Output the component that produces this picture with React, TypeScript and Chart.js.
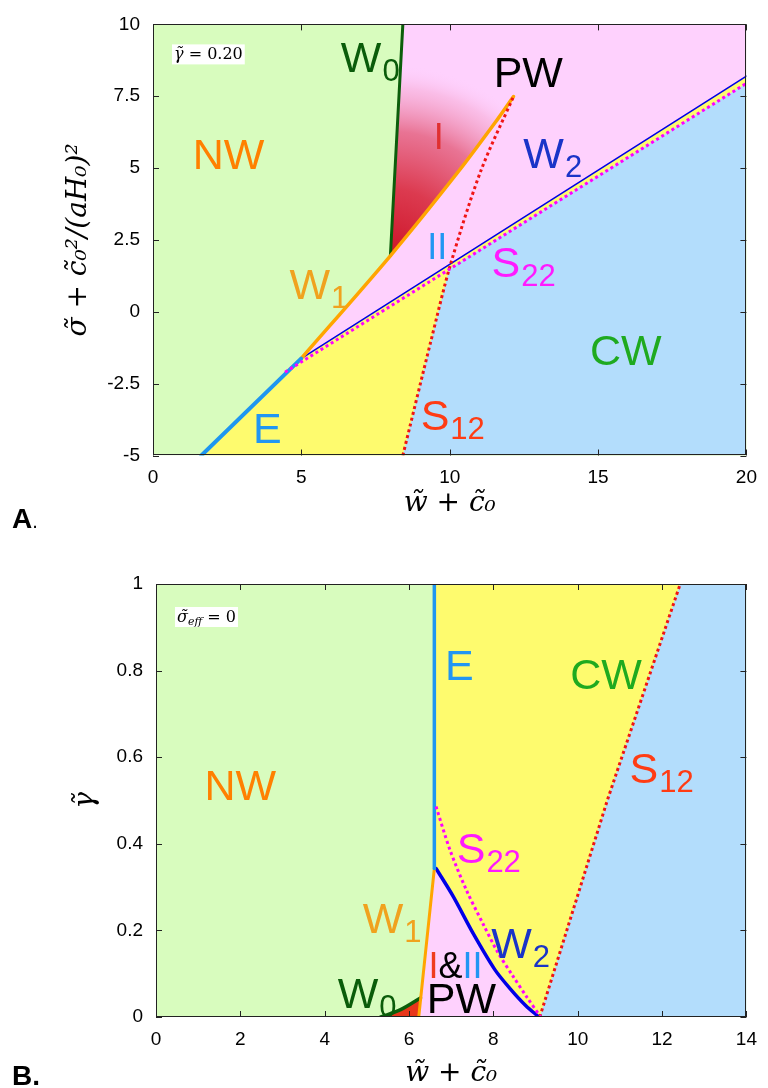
import React, { useEffect, useRef } from "react";
import { Chart, registerables } from "chart.js";
Chart.register(...registerables);

const SANS = '"Liberation Sans", Arial, Helvetica, sans-serif';
const SERIF = '"DejaVu Serif", serif';

// ---------------- Panel A (gamma = 0.20) ----------------
const xTicksA = [0, 5, 10, 15, 20];
const yTicksA = [-5, -2.5, 0, 2.5, 5, 7.5, 10];
const regionNW_A = [[0, -5], [0, 10], [20, 10], [20, -5]];
const regionE_A = [[1.63, -5], [4.99, -1.63], [20, 8.2], [20, -5]];
const regionCW_A = [[8.42, -5], [9.37, -1.0], [9.99, 1.5], [20, 7.95], [20, -5]];
const regionPW_A = [[8.0, 1.95], [8.42, 10], [20, 10], [20, 8.2], [4.99, -1.63]];
const regionI_A = [[8.0, 1.95], [8.42, 10], [12.15, 10], [12.15, 7.49], [11.64, 6.74], [10.3, 4.89]];
const lineE_A = [[1.63, -5], [4.99, -1.63]];
const lineW1_A = [[4.99, -1.63], [8.0, 1.95], [10.3, 4.89], [11.64, 6.74], [12.15, 7.49]];
const lineW0_A = [[8.0, 1.95], [8.42, 10]];
const lineW2_A = [[4.99, -1.63], [20, 8.2]];
const lineS22_A = [[4.45, -2.1], [20, 7.95]];
const lineS12_A = [[8.42, -5], [9.37, -1.0], [10.03, 1.66], [11.04, 4.88], [12.15, 7.49]];

// ---------------- Panel B (sigma_eff = 0) ----------------
const xTicksB = [0, 2, 4, 6, 8, 10, 12, 14];
const yTicksB = [0, 0.2, 0.4, 0.6, 0.8, 1];
const regionNW_B = [[0, 0], [0, 1], [14, 1], [14, 0]];
const regionY_B = [[6.6, 1], [12.43, 1], [10.7, 0.5], [9.1, 0], [8.77, 0.026], [8.4, 0.065], [8.03, 0.11], [7.52, 0.193], [7.05, 0.278], [6.64, 0.343], [6.6, 0.343]];
const regionPW_B = [[6.23, 0], [6.6, 0.343], [6.64, 0.343], [7.05, 0.278], [7.52, 0.193], [8.03, 0.11], [8.4, 0.065], [8.77, 0.026], [9.1, 0]];
const regionBlue_B = [[9.1, 0], [10.7, 0.5], [12.43, 1], [14, 1], [14, 0]];
const regionRed_B = [[5.33, 0], [5.8, 0.017], [6.27, 0.044], [6.23, 0]];
const lineE_B = [[6.6, 0.343], [6.6, 1]];
const lineW1_B = [[6.23, 0], [6.6, 0.343]];
const lineW2_B = [[6.64, 0.343], [7.05, 0.278], [7.52, 0.193], [8.03, 0.11], [8.4, 0.065], [8.77, 0.026], [9.08, 0]];
const lineS22_B = [[6.64, 0.486], [6.97, 0.386], [7.36, 0.293], [7.75, 0.216], [8.1, 0.15], [8.46, 0.095], [8.8, 0.045], [9.12, 0]];
const lineS12_B = [[9.1, 0], [10.7, 0.5], [12.43, 1]];
const lineW0_B = [[5.33, 0], [5.8, 0.017], [6.27, 0.044]];

// colours
const C_GREEN = "#d8fcbe";
const C_PINK = "#fed1fd";
const C_YELLOW = "#fefb6e";
const C_BLUE = "#b3ddfc";
const C_E = "#1e96f0";
const C_W1 = "#ffa500";
const C_W0 = "#0b5e0b";
const C_W2 = "#0000e6";
const C_S12 = "#f01414";
const C_S22 = "#ff00ff";

type Part = { t: string; c?: string; sub?: boolean };
type Label = { x: number; y: number; color: string; parts: Part[]; size?: number };

const labelsA: Label[] = [
  { x: 1.34, y: 4.96, color: "#ff8000", parts: [{ t: "NW" }] },
  { x: 6.33, y: 8.34, color: "#0a5c0a", parts: [{ t: "W" }, { t: "0", sub: true }] },
  { x: 11.48, y: 7.83, color: "#000", parts: [{ t: "PW" }] },
  { x: 9.46, y: 5.68, color: "#e03030", parts: [{ t: "I" }], size: 36 },
  { x: 12.48, y: 5.0, color: "#1a34c8", parts: [{ t: "W" }, { t: "2", sub: true }] },
  { x: 9.24, y: 1.83, color: "#2196f3", parts: [{ t: "II" }], size: 36 },
  { x: 11.41, y: 1.2, color: "#ff1aff", parts: [{ t: "S" }, { t: "22", sub: true }] },
  { x: 4.6, y: 0.45, color: "#f0a21e", parts: [{ t: "W" }, { t: "1", sub: true }] },
  { x: 14.73, y: -1.86, color: "#1faa1f", parts: [{ t: "CW" }] },
  { x: 3.37, y: -4.58, color: "#2196f3", parts: [{ t: "E" }] },
  { x: 9.02, y: -4.11, color: "#ff3c14", parts: [{ t: "S" }, { t: "12", sub: true }] },
];

const labelsB: Label[] = [
  { x: 1.15, y: 0.501, color: "#ff8000", parts: [{ t: "NW" }] },
  { x: 6.85, y: 0.778, color: "#2196f3", parts: [{ t: "E" }] },
  { x: 9.82, y: 0.757, color: "#1faa1f", parts: [{ t: "CW" }] },
  { x: 11.23, y: 0.54, color: "#ff3c14", parts: [{ t: "S" }, { t: "12", sub: true }] },
  { x: 7.13, y: 0.355, color: "#ff1aff", parts: [{ t: "S" }, { t: "22", sub: true }] },
  { x: 4.9, y: 0.195, color: "#f0a21e", parts: [{ t: "W" }, { t: "1", sub: true }] },
  { x: 7.95, y: 0.136, color: "#1a34c8", parts: [{ t: "W" }, { t: "2", sub: true }] },
  { x: 6.46, y: 0.09, color: "#000", size: 36, parts: [{ t: "I", c: "#f03c1e" }, { t: "&", c: "#000" }, { t: "II", c: "#2196f3" }] },
  { x: 6.42, y: 0.01, color: "#000", parts: [{ t: "PW" }] },
  { x: 4.31, y: 0.021, color: "#0a5c0a", parts: [{ t: "W" }, { t: "0", sub: true }] },
];

type BoxPart = { t: string; italic?: boolean; sub?: boolean };
const boxA: BoxPart[] = [{ t: "γ̃", italic: true }, { t: " = 0.20" }];
const boxB: BoxPart[] = [{ t: "σ̃", italic: true }, { t: "eff", italic: true, sub: true }, { t: " = 0" }];

const toPts = (a: number[][]) => a.map(([x, y]) => ({ x, y }));

function poly(data: number[][], color: any, order: number) {
  return {
    data: toPts(data),
    borderColor: "transparent",
    borderWidth: 0,
    backgroundColor: color,
    fill: "shape",
    pointRadius: 0,
    tension: 0,
    order,
  };
}

function curve(data: number[][], color: string, width: number, order: number, dotted = false, tension = 0) {
  return {
    data: toPts(data),
    borderColor: color,
    borderWidth: width,
    fill: false,
    pointRadius: 0,
    borderDash: dotted ? [3, 3] : [],
    borderCapStyle: dotted ? "butt" : "round",
    borderJoinStyle: "round",
    tension,
    order,
  };
}

function makePlugin(labels: Label[], box: BoxPart[], boxDx: number, boxDy: number) {
  return {
    id: "phaseDecor",
    afterDatasetsDraw(chart: any) {
      const { ctx, chartArea: a, scales } = chart;
      const xs = scales.x, ys = scales.y;
      ctx.save();
      // region labels
      for (const l of labels) {
        const size = l.size || 43;
        const subSize = 31;
        let px = xs.getPixelForValue(l.x);
        const py = ys.getPixelForValue(l.y);
        ctx.textAlign = "left";
        ctx.textBaseline = "alphabetic";
        for (const p of l.parts) {
          ctx.font = `${p.sub ? subSize : size}px ${SANS}`;
          ctx.fillStyle = p.c || l.color;
          const off = p.sub ? 1 : 0;
          ctx.fillText(p.t, px + off, py + (p.sub ? 9 : 0));
          px += ctx.measureText(p.t).width + off;
        }
      }
      // annotation box
      const bx = a.left + boxDx, by = a.top + boxDy;
      let w = 0;
      const fontFor = (p: BoxPart) => `${p.italic ? "italic " : ""}${p.sub ? 11 : 16}px ${SERIF}`;
      for (const p of box) { ctx.font = fontFor(p); w += ctx.measureText(p.t).width; }
      ctx.fillStyle = "#fff";
      ctx.fillRect(bx, by, w + 4, 20);
      let tx = bx + 2;
      ctx.fillStyle = "#000";
      for (const p of box) {
        ctx.font = fontFor(p);
        ctx.fillText(p.t, tx, by + 15 + (p.sub ? 3 : 0));
        tx += ctx.measureText(p.t).width;
      }
      // frame
      ctx.strokeStyle = "#222";
      ctx.lineWidth = 1;
      ctx.strokeRect(Math.round(a.left) + 0.5, Math.round(a.top) + 0.5, Math.round(a.width) - 1, Math.round(a.height) - 1);
      // inward ticks on all sides
      const L = 6;
      ctx.beginPath();
      for (const t of xs.ticks) {
        const p = Math.round(xs.getPixelForValue(t.value)) + 0.5;
        ctx.moveTo(p, a.bottom); ctx.lineTo(p, a.bottom - L);
        ctx.moveTo(p, a.top); ctx.lineTo(p, a.top + L);
      }
      for (const t of ys.ticks) {
        const p = Math.round(ys.getPixelForValue(t.value)) + 0.5;
        ctx.moveTo(a.left, p); ctx.lineTo(a.left + L, p);
        ctx.moveTo(a.right, p); ctx.lineTo(a.right - L, p);
      }
      ctx.stroke();
      ctx.restore();
    },
  };
}

function axis(min: number, max: number, ticks: number[], title: string, fit: (s: any) => void) {
  return {
    type: "linear",
    min,
    max,
    afterBuildTicks: (s: any) => { s.ticks = ticks.map((v) => ({ value: v })); },
    afterFit: fit,
    grid: { display: false, drawTicks: false },
    border: { display: false },
    ticks: {
      color: "#000",
      font: { family: SANS, size: 19 },
      padding: 11,
      maxRotation: 0,
      autoSkip: false,
      callback: (v: any) => String(v),
    },
    title: {
      display: true,
      text: title,
      color: "#000",
      font: { family: SERIF, size: 28, style: "italic", lineHeight: 1 },
      padding: 0,
    },
  };
}

function configA(): any {
  const gradI = (c: any) => {
    const chart = c.chart;
    if (!chart.chartArea) return "rgba(220,40,60,0.5)";
    const xs = chart.scales.x, ys = chart.scales.y;
    const s = lineW0_A[0], e = lineW1_A[lineW1_A.length - 1];
    const cx = xs.getPixelForValue(s[0]), cy = ys.getPixelForValue(s[1]);
    const r = Math.hypot(xs.getPixelForValue(e[0]) - cx, ys.getPixelForValue(e[1]) - cy) * 0.95;
    const g = chart.ctx.createRadialGradient(cx, cy, 0, cx, cy, r);
    g.addColorStop(0, "rgba(205,20,40,1)");
    g.addColorStop(0.35, "rgba(218,50,70,0.95)");
    g.addColorStop(0.65, "rgba(228,95,125,0.82)");
    g.addColorStop(0.88, "rgba(245,165,205,0.45)");
    g.addColorStop(1, "rgba(253,208,252,0)");
    return g;
  };
  const yAx: any = axis(-5, 10, yTicksA, "σ̃ + c̃₀²/(aH₀)²", (s: any) => { s.width = 88; });
  yAx.ticks.padding = 13;
  return {
    type: "line",
    data: {
      datasets: [
        poly(regionNW_A, C_GREEN, 100),
        poly(regionE_A, C_YELLOW, 90),
        poly(regionCW_A, C_BLUE, 80),
        poly(regionPW_A, C_PINK, 70),
        poly(regionI_A, gradI, 60),
        curve(lineW2_A, C_W2, 1.6, 12),
        curve(lineE_A, C_E, 4, 10),
        curve(lineW1_A, C_W1, 3.5, 10, false, 0.3),
        curve(lineW0_A, C_W0, 3, 10),
        curve(lineS22_A, C_S22, 3, 5, true),
        curve(lineS12_A, C_S12, 3, 5, true, 0.3),
      ],
    },
    options: {
      animation: false,
      responsive: false,
      events: [],
      layout: { padding: { left: 65, right: 18, top: 22, bottom: 22 } },
      plugins: { legend: { display: false }, tooltip: { enabled: false } },
      scales: {
        x: axis(0, 20, xTicksA, "w̃ + c̃₀", (s: any) => { s.height = 62.5; }),
        y: yAx,
      },
    },
    plugins: [makePlugin(labelsA, boxA, 19, 20)],
  };
}

function configB(): any {
  const yAx: any = axis(0, 1, yTicksB, "γ̃", (s: any) => { s.width = 84; });
  yAx.ticks.padding = 13;
  return {
    type: "line",
    data: {
      datasets: [
        poly(regionNW_B, C_GREEN, 100),
        poly(regionY_B, C_YELLOW, 90),
        poly(regionBlue_B, C_BLUE, 80),
        poly(regionPW_B, C_PINK, 70),
        poly(regionRed_B, "#e8361a", 60),
        curve(lineE_B, C_E, 3.5, 10),
        curve(lineW1_B, C_W1, 3, 10),
        curve(lineW2_B, C_W2, 3.5, 10, false, 0.3),
        curve(lineW0_B, C_W0, 3.5, 10, false, 0.3),
        curve(lineS22_B, C_S22, 3, 5, true, 0.3),
        curve(lineS12_B, C_S12, 3, 5, true),
      ],
    },
    options: {
      animation: false,
      responsive: false,
      events: [],
      layout: { padding: { left: 72, right: 15, top: 44, bottom: 0 } },
      plugins: { legend: { display: false }, tooltip: { enabled: false } },
      scales: {
        x: axis(0, 14, xTicksB, "w̃ + c̃₀", (s: any) => { s.height = 71; }),
        y: yAx,
      },
    },
    plugins: [makePlugin(labelsB, boxB, 19, 23)],
  };
}

function Panel({ make, top, height }: { make: () => any; top: number; height: number }) {
  const ref = useRef<HTMLCanvasElement>(null);
  useEffect(() => {
    const chart = new Chart(ref.current as HTMLCanvasElement, make());
    return () => chart.destroy();
  }, []);
  return (
    <canvas
      ref={ref}
      width={768}
      height={height}
      style={{ position: "absolute", left: 0, top, width: 768, height }}
    />
  );
}

const panelLetter: React.CSSProperties = {
  position: "absolute",
  left: 12,
  font: `bold 28px ${SANS}`,
  lineHeight: "28px",
  color: "#000",
};

export default function App() {
  return (
    <div style={{ position: "absolute", left: 0, top: 0, width: 768, height: 1088, background: "#fff", overflow: "hidden" }}>
      <Panel make={configA} top={0} height={540} />
      <Panel make={configB} top={540} height={548} />
      <div style={{ ...panelLetter, top: 505 }}>
        A<span style={{ fontWeight: "normal", fontSize: 20 }}>.</span>
      </div>
      <div style={{ ...panelLetter, top: 1062 }}>B.</div>
    </div>
  );
}
